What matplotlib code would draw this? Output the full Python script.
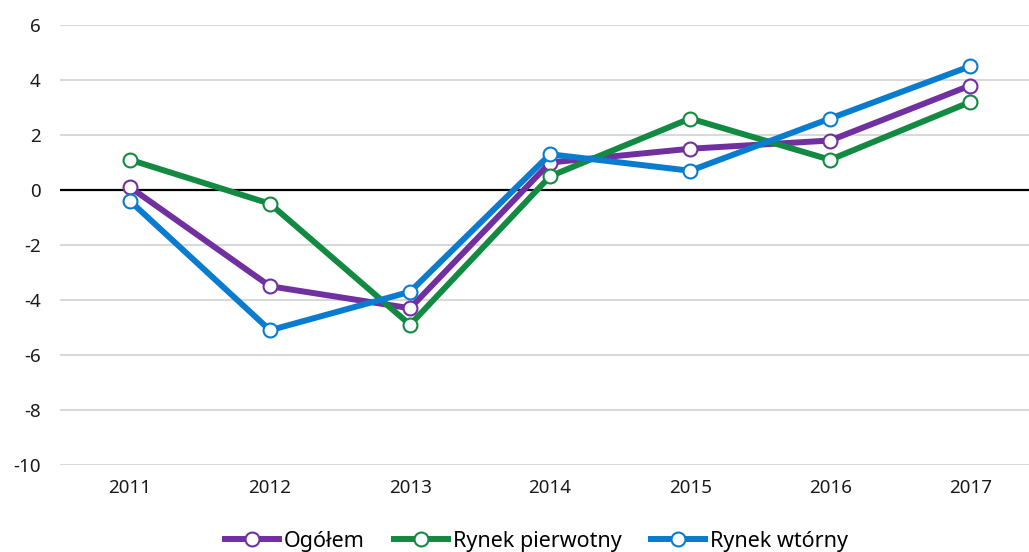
import numpy as np
import matplotlib.pyplot as plt

plt.rcParams['font.family'] = ['Noto Sans', 'DejaVu Sans']

years = ['2011', '2012', '2013', '2014', '2015', '2016', '2017']
ogolem = [0.1, -3.5, -4.3, 1.0, 1.5, 1.8, 3.8]
pierwotny = [1.1, -0.5, -4.9, 0.5, 2.6, 1.1, 3.2]
wtorny = [-0.4, -5.1, -3.7, 1.3, 0.7, 2.6, 4.5]
y_ticks = [6, 4, 2, 0, -2, -4, -6, -8, -10]

series = [
    ('Ogółem', ogolem, '#7030a0'),
    ('Rynek pierwotny', pierwotny, '#138a42'),
    ('Rynek wtórny', wtorny, '#0a7ccf'),
]

fig = plt.figure(figsize=(10.29, 5.52), dpi=100)
ax = fig.add_axes([60 / 1029, 87 / 552, 969 / 1029, 440 / 552])

x = np.arange(len(years))
for name, vals, col in series:
    ax.plot(x, vals, color=col, lw=4.3, marker='o', markersize=10,
            markerfacecolor='white', markeredgecolor=col, markeredgewidth=1.5,
            label=name, solid_capstyle='butt', zorder=3)

ax.set_ylim(-10, 6)
ax.set_xlim(-0.5, 6.42)
ax.set_yticks(y_ticks)
ax.set_yticklabels([str(t) for t in y_ticks])
ax.set_xticks(x)
ax.set_xticklabels(years)
for t in y_ticks:
    if t != 0:
        ax.axhline(t, color='#d9d9d9', lw=1.5, zorder=1)
ax.axhline(0, color='black', lw=1.6, zorder=2)

for s in ax.spines.values():
    s.set_visible(False)
ax.tick_params(length=0, labelsize=13.5, colors='#1a1a1a')
ax.tick_params(axis='y', pad=14)
ax.tick_params(axis='x', pad=10)

fig.legend(loc='lower center', bbox_to_anchor=(0.52, -0.035), ncol=3, frameon=False,
           fontsize=15.5, handlelength=2.8, handletextpad=0.1, columnspacing=1.2)

fig.savefig('out.png', dpi=100)
